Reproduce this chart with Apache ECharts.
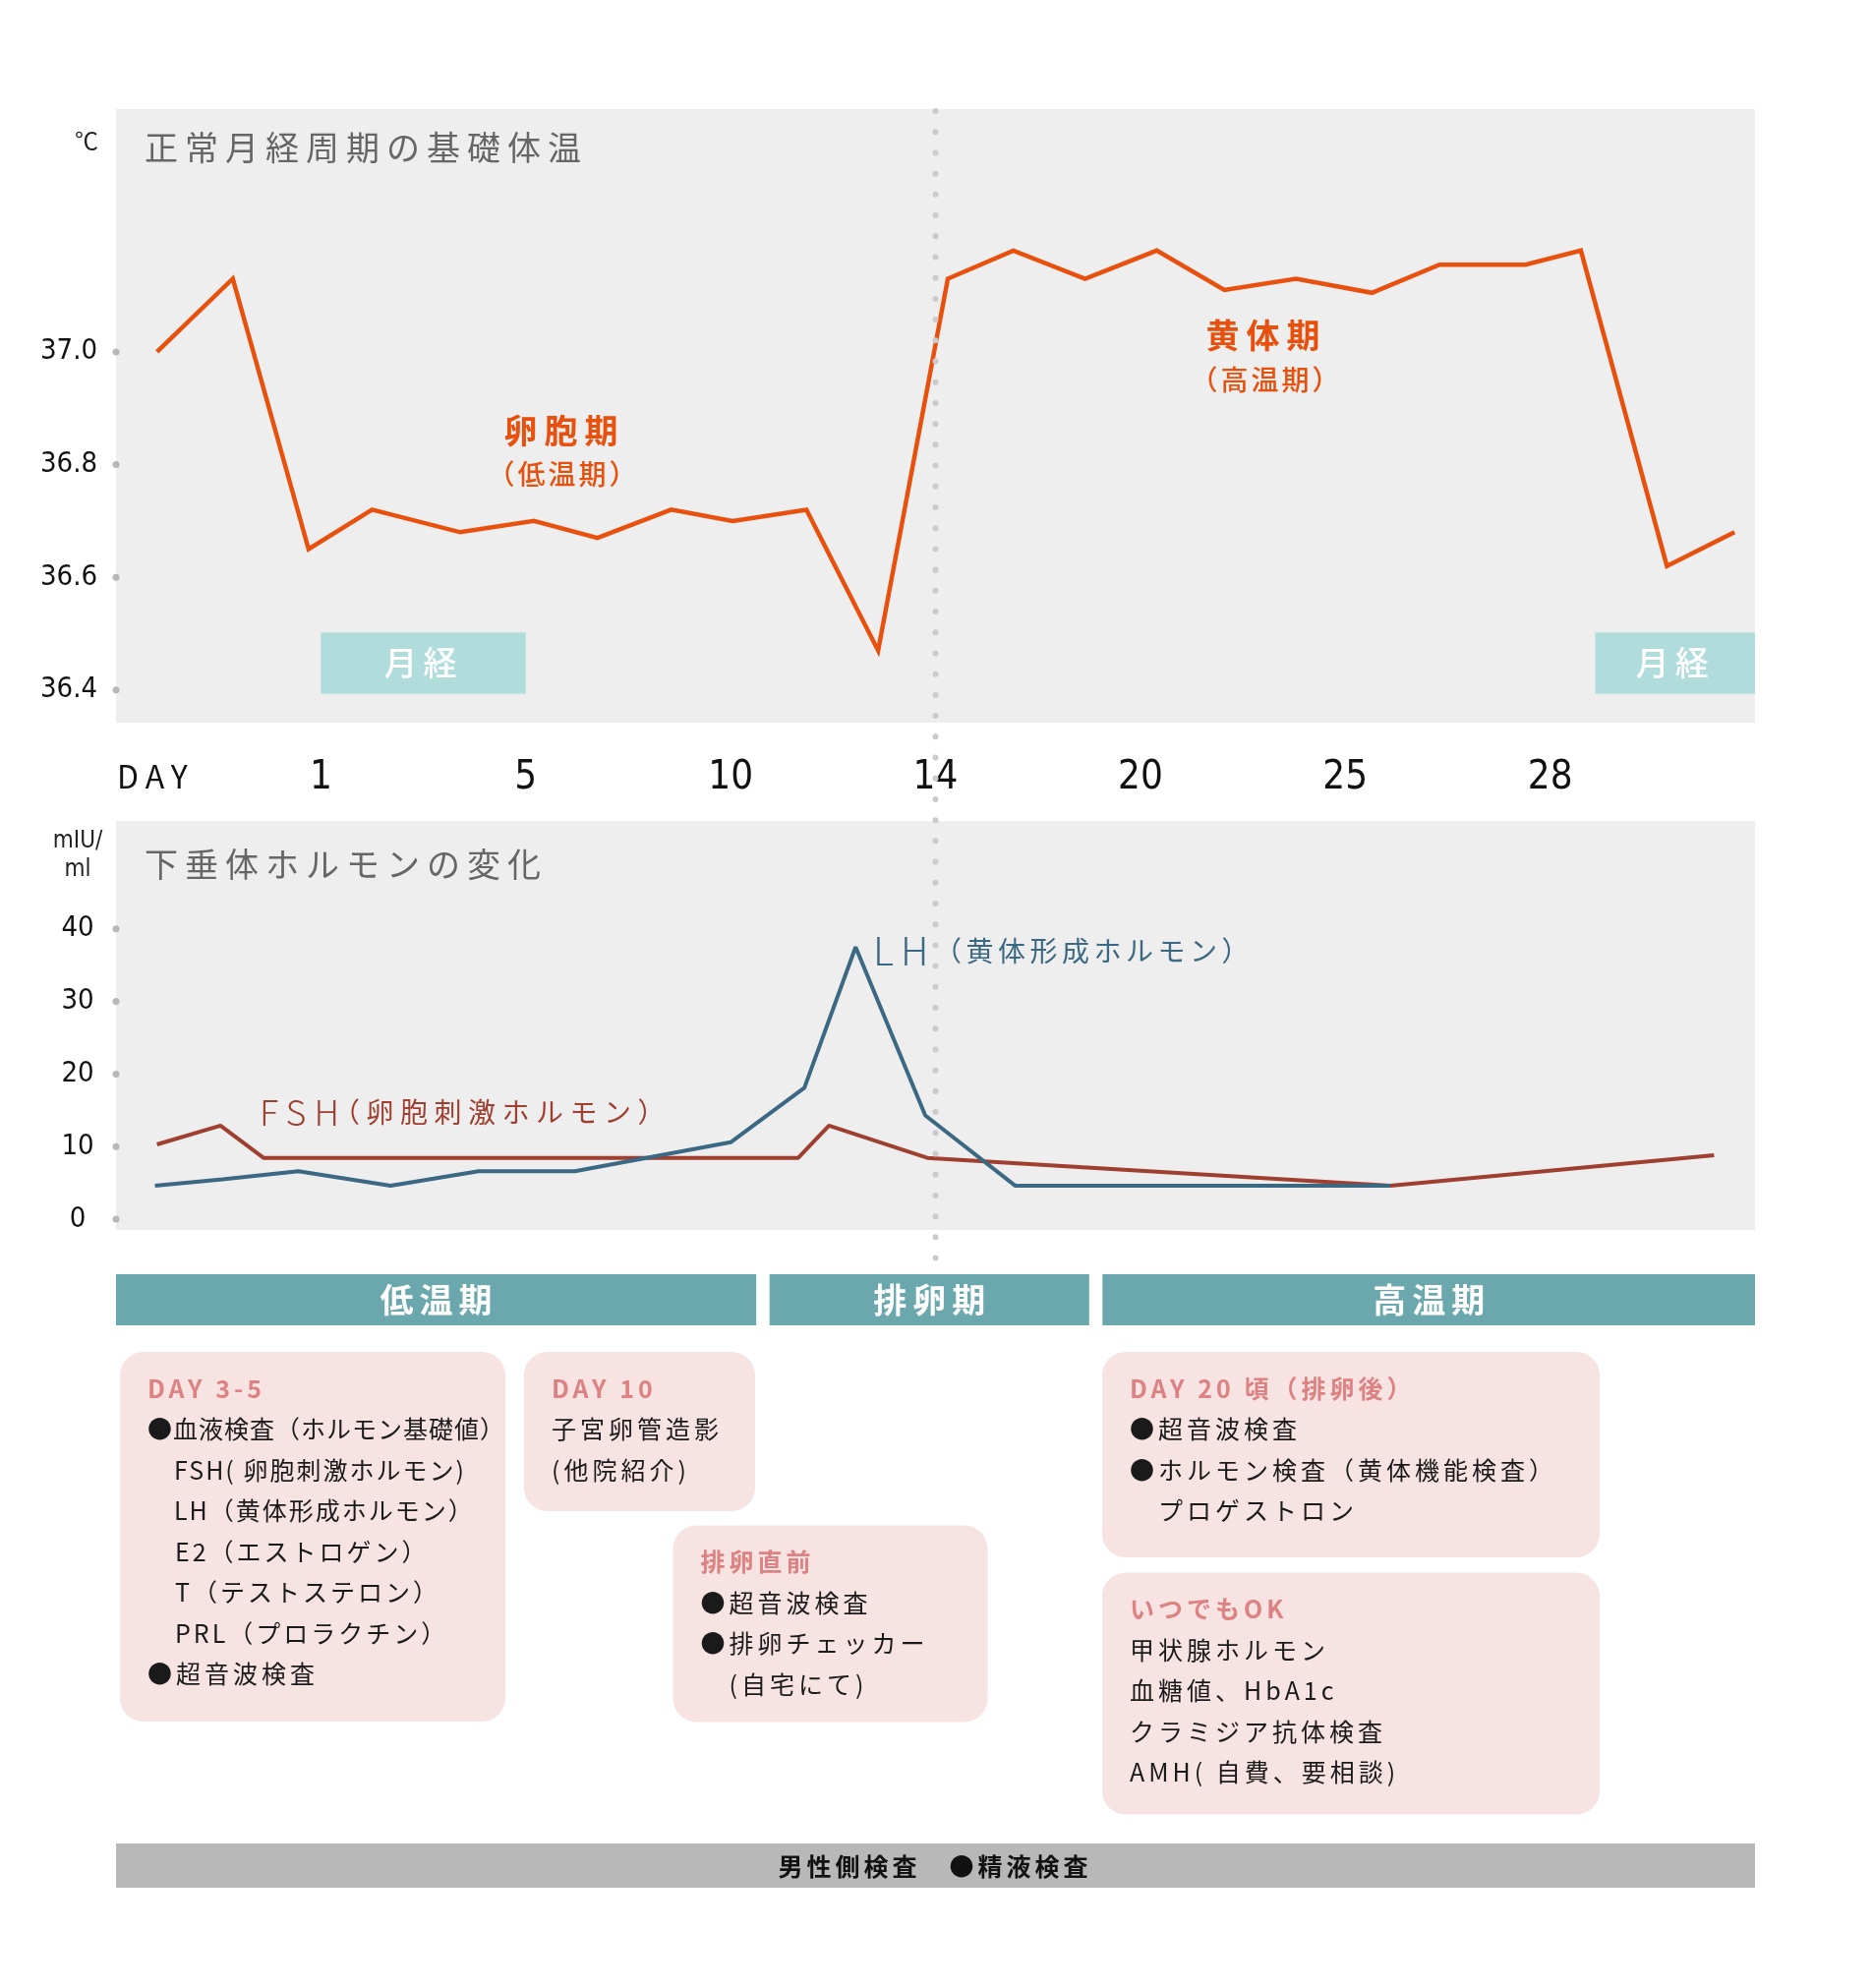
<!DOCTYPE html>
<html><head><meta charset="utf-8">
<script src="https://cdn.jsdelivr.net/npm/echarts@6/dist/echarts.min.js"></script>
<style>html,body{margin:0;padding:0;background:#fff}#c{width:1904px;height:2022px}</style>
</head><body><div id="c"></div>
<script>
// letter-spacing support: a pseudo family "lsN" in a font string means N/10 px tracking
(function(){
  const P = CanvasRenderingContext2D.prototype;
  if (!('letterSpacing' in P)) return;
  const re = /\bls(\d+)\b/;
  ['fillText','strokeText','measureText'].forEach(function(fn){
    const orig = P[fn];
    P[fn] = function(){
      const m = re.exec(this.font);
      if (!m) return orig.apply(this, arguments);
      const prev = this.letterSpacing;
      this.letterSpacing = (parseInt(m[1],10)/10) + 'px';
      const r = orig.apply(this, arguments);
      this.letterSpacing = prev;
      return r;
    };
  });
})();

// ---------------- data ----------------
const dayTickLabels = ['1','5','10','14','20','25','28'];   // at positions 1..7 of the DAY scale
const ovulationPos = 4;                                        // "14"
const tempTicks = [36.4, 36.6, 36.8, 37.0];
const tempPos = [0.20,0.57,0.94,1.25,1.68,2.04,2.35,2.71,3.01,3.37,3.72,4.06,4.38,4.73,5.08,5.41,5.76,6.13,6.46,6.88,7.15,7.57,7.90];
const tempC   = [37.00,37.13,36.65,36.72,36.68,36.70,36.67,36.72,36.70,36.72,36.47,37.13,37.18,37.13,37.18,37.11,37.13,37.105,37.155,37.155,37.18,36.62,36.68];
const mensesSpans = [[1, 2], [7.22, 8]];
const mensesLabel = '月経';
const hormoneTicks = [0, 10, 20, 30, 40];
const lhPos  = [0.19,0.52,0.89,1.34,1.77,2.24,3.00,3.36,3.61,3.95,4.39,6.22];
const lhVal  = [4.6,5.5,6.6,4.6,6.6,6.6,10.6,18.1,37.5,14.3,4.6,4.6];
const fshPos = [0.20,0.51,0.72,3.33,3.48,3.96,6.22,7.80];
const fshVal = [10.3,12.9,8.45,8.45,12.9,8.45,4.6,8.8];
const phaseNames = ['低温期','排卵期','高温期'];
const phaseStart = [0, 3.19, 4.815];
const phaseEnd   = [3.125, 4.75, 8];

const title1 = '正常月経周期の基礎体温';
const title2 = '下垂体ホルモンの変化';
const tempUnit = '℃';
const hormoneUnit = 'mIU/\nml';
const follicularLabel = ['卵胞期','（低温期）'];
const lutealLabel = ['黄体期','（高温期）'];
const lhLabel = ['LH','（黄体形成ホルモン）'];
const fshLabel = ['FSH','（卵胞刺激ホルモン）'];

const box1Title = 'DAY 3-5';
const box1Lines = ['●血液検査（ホルモン基礎値）','　FSH( 卵胞刺激ホルモン)','　LH（黄体形成ホルモン）','　E2（エストロゲン）','　T（テストステロン）','　PRL（プロラクチン）','●超音波検査'];
const box2Title = 'DAY 10';
const box2Lines = ['子宮卵管造影','(他院紹介)'];
const box3Title = '排卵直前';
const box3Lines = ['●超音波検査','●排卵チェッカー','　(自宅にて)'];
const box4Title = 'DAY 20 頃（排卵後）';
const box4Lines = ['●超音波検査','●ホルモン検査（黄体機能検査）','　プロゲストロン'];
const box5Title = 'いつでもOK';
const box5Lines = ['甲状腺ホルモン','血糖値、HbA1c','クラミジア抗体検査','AMH( 自費、要相談)'];
const maleLabel = '男性側検査　●精液検査';

// ---------------- styles ----------------
const JP = "'Noto Sans CJK JP'";
const NUM = "'DejaVu Sans Condensed', 'Liberation Sans Narrow'";
// ls given in px, encoded in tenths inside the font family marker
function fam(base, ls){ return base + ', ls' + Math.round(ls*10) + ', sans-serif'; }
function fnt(weight, size, base, ls){ return weight + ' ' + size + 'px ' + fam(base, ls); }
const C_ORANGE = '#e8500e', C_BLUE = '#3b6882', C_RED = '#9e3f30';
const C_PANEL = '#eeeeee', C_TEAL = '#6aa8ad', C_MENSES = '#b1dcdc';
const C_PINK = '#f8e3e3', C_PINKTXT = '#dc8282';

const G = {left:118, width:1667};
const option = {
  animation: false,
  backgroundColor: '#fff',
  grid: [
    {left:G.left, width:G.width, top:111, height:624, show:true, backgroundColor:C_PANEL, borderWidth:0},
    {left:G.left, width:G.width, top:835, height:416, show:true, backgroundColor:C_PANEL, borderWidth:0},
    {left:G.left, width:G.width, top:1296, height:52, show:false}
  ],
  xAxis: [
    {gridIndex:0, type:'value', min:0, max:8, interval:1, position:'bottom',
     axisLine:{show:false}, axisTick:{show:false}, splitLine:{show:false},
     axisLabel:{margin:37, color:'#111', fontSize:40, fontFamily:fam(NUM,0),
       showMinLabel:true, showMaxLabel:true,
       formatter: v => dayTickLabels[v-1] || ''}},
    {gridIndex:1, type:'value', min:0, max:8, show:false},
    {gridIndex:2, type:'value', min:0, max:8, show:false}
  ],
  yAxis: [
    {gridIndex:0, type:'value', min:36.342, max:37.431,
     axisLine:{show:false}, axisTick:{show:false}, splitLine:{show:false},
     axisLabel:{customValues:tempTicks, formatter:v=>v.toFixed(1), margin:48, align:'center',
       color:'#111', fontSize:29, fontFamily:fam(NUM,0)}},
    {gridIndex:1, type:'value', min:-1.49, max:54.88,
     axisLine:{show:false}, axisTick:{show:false}, splitLine:{show:false},
     axisLabel:{customValues:hormoneTicks, margin:39, align:'center',
       color:'#111', fontSize:29, fontFamily:fam(NUM,0)}},
    {gridIndex:2, type:'value', min:0, max:1, show:false}
  ],
  series: [
    {type:'scatter', xAxisIndex:0, yAxisIndex:0, silent:true, clip:false, symbolSize:7,
     itemStyle:{color:'#a8a8a8'}, data: tempTicks.map(v=>[0,v]), z:5},
    {type:'scatter', xAxisIndex:1, yAxisIndex:1, silent:true, clip:false, symbolSize:7,
     itemStyle:{color:'#a8a8a8'}, data: hormoneTicks.map(v=>[0,v]), z:5},
    {type:'line', name:'基礎体温', xAxisIndex:0, yAxisIndex:0, symbol:'none', silent:true,
     lineStyle:{color:C_ORANGE, width:4.5, join:'miter'},
     data: tempPos.map((x,i)=>[x, tempC[i]]),
     markArea:{silent:true, itemStyle:{color:C_MENSES},
       label:{show:true, position:'inside', color:'#fff', fontSize:34, fontWeight:500, fontFamily:fam(JP,6)},
       data: mensesSpans.map(s=>[{name:mensesLabel, xAxis:s[0], yAxis:36.393},{xAxis:s[1], yAxis:36.502}])}},
    {type:'line', name:'FSH', xAxisIndex:1, yAxisIndex:1, symbol:'none', silent:true,
     lineStyle:{color:C_RED, width:4}, data: fshPos.map((x,i)=>[x, fshVal[i]])},
    {type:'line', name:'LH', xAxisIndex:1, yAxisIndex:1, symbol:'none', silent:true,
     lineStyle:{color:C_BLUE, width:4}, data: lhPos.map((x,i)=>[x, lhVal[i]])},
    {type:'custom', xAxisIndex:2, yAxisIndex:2, silent:true,
     data: phaseNames.map((n,i)=>[phaseStart[i], phaseEnd[i]]),
     renderItem: function(params, api){
       const s = api.coord([api.value(0), 0]);
       const e = api.coord([api.value(1), 0]);
       const cs = params.coordSys;
       return {type:'group', children:[
         {type:'rect', shape:{x:s[0], y:cs.y, width:e[0]-s[0], height:cs.height}, style:{fill:C_TEAL}},
         {type:'text', x:(s[0]+e[0])/2+3, y:cs.y+cs.height/2,
          style:{text:phaseNames[params.dataIndex], fill:'#fff', font:fnt('bold',34,JP,6), align:'center', verticalAlign:'middle'}}
       ]};
     }}
  ]
};

const chart = echarts.init(document.getElementById('c'), null, {renderer:'canvas', width:1904, height:2022});
chart.setOption(option);

// --------------- annotation graphics ---------------
function T(text, x, y, font, fill, align){
  return {type:'text', x:x, y:y, z:20, silent:true,
    style:{text:text, font:font, fill:fill, align:align||'left', verticalAlign:'middle'}};
}
const gfx = [];
gfx.push(T(title1, 147, 150, fnt('normal',34,JP,7), '#666'));
gfx.push(T(title2, 147, 879, fnt('normal',34,JP,7), '#666'));
gfx.push(T(tempUnit, 100, 143, fnt('normal',24,JP,0), '#222', 'right'));
gfx.push({type:'text', x:79, y:870, z:20, silent:true,
  style:{text:hormoneUnit, font:fnt('normal',24,NUM,0), fill:'#222', align:'center', verticalAlign:'middle', lineHeight:29}});
gfx.push(T('DAY', 119, 790, fnt('normal',32,JP,7), '#111'));
gfx.push(T(follicularLabel[0], 574, 438, fnt('bold',34,JP,7), C_ORANGE, 'center'));
gfx.push(T(follicularLabel[1], 573, 482, fnt('500',28,JP,3), C_ORANGE, 'center'));
gfx.push(T(lutealLabel[0], 1288, 341, fnt('bold',34,JP,7), C_ORANGE, 'center'));
gfx.push(T(lutealLabel[1], 1288, 386, fnt('500',28,JP,3), C_ORANGE, 'center'));
gfx.push(T(lhLabel[0], 888, 967, fnt('300',40,JP,7), C_BLUE));
gfx.push(T(lhLabel[1], 950, 967, fnt('normal',28,JP,4.5), C_BLUE));
gfx.push(T(fshLabel[0], 264, 1131, fnt('300',36,JP,8), C_RED));
gfx.push(T(fshLabel[1], 338, 1131, fnt('normal',28,JP,6.5), C_RED));

function box(x, y, w, h, title, lines, ls){
  gfx.push({type:'rect', z:1, silent:true, shape:{x:x, y:y, width:w, height:h, r:24}, style:{fill:C_PINK}});
  gfx.push(T(title, x+28, y+37, fnt('bold',25,JP,4), C_PINKTXT));
  lines.forEach((l,i)=>{
    const s = Array.isArray(ls) ? ls[i] : ls;
    gfx.push(T(l, x+28, y+37+41.5*(i+1), fnt('normal',25,JP,s), '#1a1a1a'));
  });
}
box(122, 1375, 392, 376, box1Title, box1Lines, [1,2,2,3,3,3,4]);
box(533, 1375, 235, 162, box2Title, box2Lines, 4);
box(684.5, 1551.5, 320, 200, box3Title, box3Lines, 4);
box(1121, 1375, 506, 209, box4Title, box4Lines, 4);
box(1121, 1599.5, 506, 246, box5Title, box5Lines, 4);

gfx.push({type:'rect', z:1, silent:true, shape:{x:118, y:1875, width:1667, height:45}, style:{fill:'#b8b8b8'}});
gfx.push(T(maleLabel, 951, 1898, fnt('bold',25,JP,4), '#111', 'center'));

const ox = chart.convertToPixel({xAxisIndex:0}, ovulationPos);
gfx.push({type:'line', z:30, silent:true, shape:{x1:ox, y1:113, x2:ox, y2:1300},
  style:{stroke:'#cbcbcb', lineWidth:6, lineDash:[0.01, 21.2], lineCap:'round'}});

chart.setOption({graphic: gfx});
</script>
</body></html>
